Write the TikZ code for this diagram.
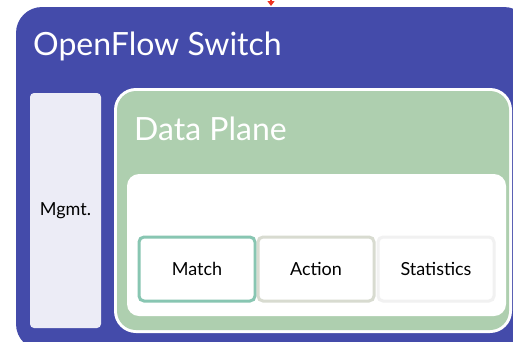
\documentclass[tikz,border=0pt]{standalone}
\usepackage{fontspec}
\setmainfont{Lato}
\usetikzlibrary{arrows.meta}
\definecolor{ofblue}{HTML}{444BAA}
\definecolor{mgmtfill}{HTML}{ECECF6}
\definecolor{dpgreen}{HTML}{AECFAF}
\definecolor{matchc}{HTML}{88C6B2}
\definecolor{actionc}{HTML}{D8DBD0}
\definecolor{statc}{HTML}{F1F1F1}
\definecolor{arrowred}{HTML}{EE3322}
\tikzset{
  cell/.style={draw, line width=3pt, fill=white, rounded corners=5pt, minimum width=116pt, minimum height=64pt, inner sep=0pt, font=\fontsize{18}{20}\selectfont, text=black},
}
\begin{document}
\begin{tikzpicture}[x=1pt,y=-1pt]
\useasboundingbox (0,0) rectangle (513,341);
\begin{scope}
\clip (0,0) rectangle (513,341);
\fill[white] (0,0) rectangle (513,341);
% outer switch
\path[fill=ofblue, rounded corners=26pt] (16,7) rectangle (530,350);
\node[anchor=base west, text=white, inner sep=0pt, font=\fontsize{32}{36}\selectfont] (title) at (33,55) {OpenFlow Switch};
% mgmt
\node[fill=mgmtfill, rounded corners=4pt, minimum width=71pt, minimum height=235pt, inner sep=0pt, font=\fontsize{18}{20}\selectfont] (mgmt) at (65.5,210.5) {Mgmt.};
% data plane
\path[fill=white, rounded corners=22pt] (114,88) rectangle (512,333);
\path[fill=dpgreen, rounded corners=19pt] (117,91) rectangle (509,330);
\node[anchor=base west, text=white, inner sep=0pt, font=\fontsize{32}{36}\selectfont] (dp) at (134,140) {Data Plane};
% flow table
\path[fill=white, rounded corners=12pt] (127,174) rectangle (506,316);
\node[cell, draw=matchc] (match) at (197,269) {Match};
\node[cell, draw=actionc] (action) at (316,269) {Action};
\node[cell, draw=statc] (stats) at (436,269) {Statistics};
% red arrow into switch
\coordinate (src) at (271,-20);
\coordinate (dst) at (271,6);
\draw[arrowred, line width=1.2pt, -{Triangle[width=7pt,length=5pt]}] (src) -- (dst);
\end{scope}
\end{tikzpicture}
\end{document}
